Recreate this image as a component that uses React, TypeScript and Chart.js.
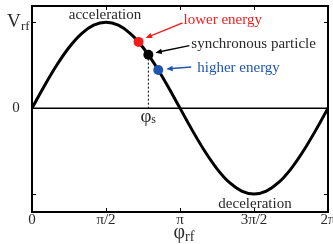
import React, { useEffect, useRef } from "react";
import { Chart, registerables } from "chart.js";
Chart.register(...registerables);

const PHASE = [0, 0.2618, 0.5236, 0.7854, 1.0472, 1.309, 1.5708, 1.8326, 2.0944, 2.3562, 2.618, 2.8798, 3.1416, 3.4034, 3.6652, 3.927, 4.1888, 4.4506, 4.7124, 4.9742, 5.236, 5.4978, 5.7596, 6.0214, 6.2832];
const VOLTAGE = [0, 0.259, 0.5, 0.707, 0.866, 0.966, 1, 0.966, 0.866, 0.707, 0.5, 0.259, 0, -0.259, -0.5, -0.707, -0.866, -0.966, -1, -0.966, -0.866, -0.707, -0.5, -0.259, 0];
const PARTICLE_PHASE = [2.262, 2.47, 2.68];
const PARTICLE_VOLTAGE = [0.772, 0.623, 0.445];
const PARTICLE_COLORS = ["#f21c1c", "#000000", "#1f55b0"];
const PARTICLE_LABELS = ["lower energy", "synchronous particle", "higher energy"];
const X_TICKS = [0, 1.5708, 3.1416, 4.7124, 6.2832];
const X_TICK_LABELS = ["0", "π/2", "π", "3π/2", "2π"];

const SERIF = '"Liberation Serif", "DejaVu Serif", serif';

function arrow(ctx: CanvasRenderingContext2D, x1: number, y1: number, x2: number, y2: number, color: string) {
  const ang = Math.atan2(y2 - y1, x2 - x1);
  const hl = 7;
  ctx.strokeStyle = color;
  ctx.fillStyle = color;
  ctx.lineWidth = 1.4;
  ctx.beginPath();
  ctx.moveTo(x1, y1);
  ctx.lineTo(x2 - Math.cos(ang) * hl * 0.8, y2 - Math.sin(ang) * hl * 0.8);
  ctx.stroke();
  ctx.beginPath();
  ctx.moveTo(x2, y2);
  ctx.lineTo(x2 - hl * Math.cos(ang - 0.4), y2 - hl * Math.sin(ang - 0.4));
  ctx.lineTo(x2 - hl * Math.cos(ang + 0.4), y2 - hl * Math.sin(ang + 0.4));
  ctx.closePath();
  ctx.fill();
}

const decor = {
  id: "decor",
  beforeDatasetsDraw(chart: any) {
    const { ctx, chartArea: a, scales } = chart;
    const x = scales.x, y = scales.y;
    ctx.save();
    const y0 = y.getPixelForValue(0);
    ctx.strokeStyle = "#000";
    ctx.lineWidth = 1.5;
    ctx.beginPath();
    ctx.moveTo(a.left, y0);
    ctx.lineTo(a.right, y0);
    ctx.stroke();
    const sx = x.getPixelForValue(PARTICLE_PHASE[1]);
    const sy = y.getPixelForValue(PARTICLE_VOLTAGE[1]);
    ctx.setLineDash([2, 2]);
    ctx.lineWidth = 1;
    ctx.beginPath();
    ctx.moveTo(sx, sy);
    ctx.lineTo(sx, y0);
    ctx.stroke();
    ctx.setLineDash([]);
    ctx.restore();
  },
  afterDraw(chart: any) {
    const { ctx, chartArea: a, scales } = chart;
    const x = scales.x, y = scales.y;
    ctx.save();
    ctx.strokeStyle = "#000";
    ctx.lineWidth = 2;
    ctx.strokeRect(a.left, a.top, a.right - a.left, a.bottom - a.top);
    ctx.lineWidth = 1;
    [X_TICKS[1], X_TICKS[2], X_TICKS[3]].forEach((v) => {
      const px = Math.round(x.getPixelForValue(v)) + 0.5;
      ctx.beginPath();
      ctx.moveTo(px, a.bottom);
      ctx.lineTo(px, a.bottom - 4);
      ctx.moveTo(px, a.top);
      ctx.lineTo(px, a.top + 4);
      ctx.stroke();
    });
    [1, -1].forEach((v) => {
      const py = Math.round(y.getPixelForValue(v)) + 0.5;
      ctx.beginPath();
      ctx.moveTo(a.left, py);
      ctx.lineTo(a.left + 4, py);
      ctx.moveTo(a.right, py);
      ctx.lineTo(a.right - 4, py);
      ctx.stroke();
    });
    const TXT = "#2a2a2a";
    ctx.fillStyle = TXT;
    ctx.font = `15px ${SERIF}`;
    ctx.textAlign = "center";
    ctx.textBaseline = "middle";
    X_TICKS.forEach((v, i) => {
      ctx.fillText(X_TICK_LABELS[i], x.getPixelForValue(v), a.bottom + 8);
    });
    const cx = x.getPixelForValue(X_TICKS[2]);
    ctx.font = `20px ${SERIF}`;
    ctx.textAlign = "right";
    ctx.fillText("φ", cx + 5, a.bottom + 21);
    ctx.font = `14px ${SERIF}`;
    ctx.textAlign = "left";
    ctx.fillText("rf", cx + 5, a.bottom + 25);
    ctx.font = `19px ${SERIF}`;
    ctx.textAlign = "left";
    const p1 = y.getPixelForValue(1);
    ctx.fillText("V", 7, p1);
    ctx.font = `13px ${SERIF}`;
    ctx.fillText("rf", 21, p1 + 4);
    ctx.font = `15px ${SERIF}`;
    ctx.textAlign = "center";
    ctx.fillText("0", 16, y.getPixelForValue(0));
    const sx = x.getPixelForValue(PARTICLE_PHASE[1]);
    const y0 = y.getPixelForValue(0);
    ctx.font = `19px ${SERIF}`;
    ctx.textAlign = "right";
    ctx.fillText("φ", sx + 3, y0 + 9);
    ctx.font = `12px ${SERIF}`;
    ctx.textAlign = "left";
    ctx.fillText("s", sx + 3, y0 + 12);
    ctx.font = `15px ${SERIF}`;
    ctx.textAlign = "center";
    ctx.fillText("acceleration", x.getPixelForValue(X_TICKS[1]) - 1, a.top + 9);
    ctx.fillText("deceleration", x.getPixelForValue(X_TICKS[3]) + 1, a.bottom - 8);
    const arrows = [
      { tail: [44, -19], head: [7, -4], text: [45, -22] },
      { tail: [41, -9], head: [7, -2], text: [43, -11] },
      { tail: [33, -3], head: [8, -1], text: [39, -2] },
    ];
    ctx.textAlign = "left";
    PARTICLE_PHASE.forEach((ph, i) => {
      const px = x.getPixelForValue(ph);
      const py = y.getPixelForValue(PARTICLE_VOLTAGE[i]);
      const c = i === 1 ? TXT : PARTICLE_COLORS[i];
      const ar = arrows[i];
      arrow(ctx, px + ar.tail[0], py + ar.tail[1], px + ar.head[0], py + ar.head[1], PARTICLE_COLORS[i]);
      ctx.fillStyle = c;
      ctx.fillText(PARTICLE_LABELS[i], px + ar.text[0], py + ar.text[1]);
    });
    ctx.restore();
  },
};

export default function App() {
  const ref = useRef<HTMLCanvasElement>(null);
  useEffect(() => {
    if (!ref.current) return;
    const chart = new Chart(ref.current, {
      type: "line",
      data: {
        datasets: [
          {
            data: PARTICLE_PHASE.map((p, i) => ({ x: p, y: PARTICLE_VOLTAGE[i] })),
            showLine: false,
            pointRadius: 5,
            pointBackgroundColor: PARTICLE_COLORS,
            pointBorderColor: PARTICLE_COLORS,
            pointBorderWidth: 0,
          },
          {
            data: PHASE.map((p, i) => ({ x: p, y: VOLTAGE[i] })),
            borderColor: "#000",
            borderWidth: 3,
            pointRadius: 0,
            cubicInterpolationMode: "monotone",
            fill: false,
          },
        ],
      },
      options: {
        animation: false,
        responsive: false,
        layout: { padding: { left: 32, right: 1, top: 6, bottom: 32 } },
        plugins: { legend: { display: false }, tooltip: { enabled: false } },
        scales: {
          x: { type: "linear", min: 0, max: 6.2832, display: false },
          y: { type: "linear", min: -1.21, max: 1.19, display: false },
        },
      },
      plugins: [decor],
    });
    return () => chart.destroy();
  }, []);
  return (
    <div style={{ position: "absolute", left: 0, top: 0, width: 333, height: 244 }}>
      <canvas ref={ref} width={333} height={244} style={{ display: "block" }} />
    </div>
  );
}
